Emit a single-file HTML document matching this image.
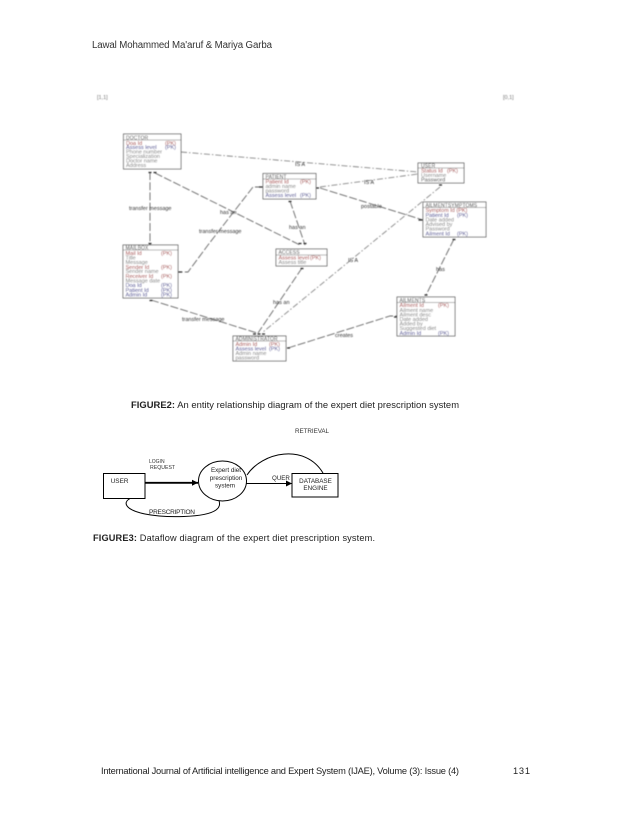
<!DOCTYPE html>
<html><head><meta charset="utf-8"><style>
html,body{margin:0;padding:0;background:#fff;width:638px;height:826px;overflow:hidden}
svg{display:block}
text{font-family:"Liberation Sans",sans-serif}
.er text{font-size:5.5px;fill:#777}
.er .h{fill:#333;font-size:5px;letter-spacing:.1px}.er .r{fill:#a03030}.er .b{fill:#303088}.er .k{fill:#333}
.er rect{fill:#fff;stroke:#555;stroke-width:.8}
.er line.s{stroke:#666;stroke-width:.6}
.c{fill:none;stroke:#666;stroke-width:.9}
.d{stroke-dasharray:8 2.2}
.dd{stroke-dasharray:6 2 1.5 2;stroke:#888}
.t{stroke:#222;stroke-width:1.2;fill:none}
</style></head><body>
<svg width="638" height="826" viewBox="0 0 638 826" xmlns="http://www.w3.org/2000/svg">
<defs><filter id="bl" x="-5%" y="-5%" width="110%" height="110%"><feGaussianBlur stdDeviation="0.4"/></filter>
<marker id="ar" markerUnits="userSpaceOnUse" markerWidth="7" markerHeight="7" refX="6" refY="3.500" orient="auto"><path d="M0 .5L6 3.500L0 6.500z" fill="#000"/></marker></defs>
<rect width="638" height="826" fill="#fff"/>
<text x="92" y="48" font-size="9.700" fill="#333" textLength="180" lengthAdjust="spacing">Lawal Mohammed Ma'aruf &amp; Mariya Garba</text>
<g class="er" filter="url(#bl)">
<text x="97" y="99">[1,1]</text><text x="503" y="99">[0,1]</text>
<path class="c dd" d="M181 152L418 172"/>
<path class="c dd" d="M320 187L418 174"/>
<path class="c dd" d="M440 187L263 332"/>
<path class="c d" d="M150 172V245"/>
<path class="c d" d="M155 173L300 245"/>
<path class="c d" d="M263 187H253L208 245L188 272H178"/>
<path class="c d" d="M320 188L423 220"/>
<path class="c d" d="M290 201L305 245"/>
<path class="c d" d="M454 239L426 295"/>
<path class="c d" d="M151 300L257 333"/>
<path class="c d" d="M302 268L258 333"/>
<path class="c d" d="M288 348L390 316H397"/>
<path class="t" d="M148.500 172.500h3M153.500 172.500h3M148.500 243.500h3M288.500 201.500h3M439 185h3M452.500 239.500h3M424.500 295h3M149.500 300.500h3M298.500 243.500h3M303.500 243.500h3M300.500 268.500h3M253 334h3M257.500 334h3M262 334h3M178 272h4M418.500 220h4.500M259 187h4M316 188h3M394 317h3M287 348h3"/>
<text x="129" y="210" class="k">transfer message</text>
<text x="199" y="233" class="k">transfer message</text>
<text x="220" y="214" class="k">has an</text>
<text x="289" y="229" class="k">has an</text>
<text x="361" y="208" class="k">postable</text>
<text x="295" y="166" class="k">IS A</text>
<text x="364" y="184" class="k">IS A</text>
<text x="348" y="262" class="k">IS A</text>
<text x="436" y="271" class="k">has</text>
<text x="273" y="304" class="k">has an</text>
<text x="182" y="321" class="k">transfer message</text>
<text x="335" y="337" class="k">creates</text>

<rect x="123.500" y="134" width="57.500" height="35"/><line class="s" x1="123.500" x2="181" y1="140" y2="140"/>
<text x="126" y="139.500" class="h">DOCTOR</text>
<text x="126" y="144.800" class="r">Doa Id</text><text x="165" y="144.800" class="r">(PK)</text>
<text x="126" y="149.200" class="b">Assess level</text><text x="165" y="149.200" class="b">(PK)</text>
<text x="126" y="153.700">Phone number</text><text x="126" y="158.200">Specialization</text><text x="126" y="162.700">Doctor name</text><text x="126" y="167.200">Address</text>

<rect x="263" y="173.500" width="53" height="25.500"/><line class="s" x1="263" x2="316" y1="179" y2="179"/>
<text x="265.500" y="178.500" class="h">PATIENT</text>
<text x="265.500" y="183.500" class="r">Patient Id</text><text x="300" y="183.500" class="r">(PK)</text>
<text x="265.500" y="187.900">admin name</text><text x="265.500" y="192.300">password</text>
<text x="265.500" y="197" class="b">Assess level</text><text x="300" y="197" class="b">(PK)</text>

<rect x="418" y="163" width="46" height="20"/><line class="s" x1="418" x2="464" y1="168" y2="168"/>
<text x="421" y="167.500" class="h">USER</text>
<text x="421" y="172.700" class="r">Status Id</text><text x="447" y="172.700" class="r">(PK)</text>
<text x="421" y="177.200">Username</text><text x="421" y="181.700" class="k">Password</text>

<rect x="423" y="202" width="63" height="35"/><line class="s" x1="423" x2="486" y1="207.500" y2="207.500"/>
<text x="425.500" y="206.800" class="h">AILMENTSYMPTOMS</text>
<text x="425.500" y="212.200" class="r">Symptom Id (PK)</text>
<text x="425.500" y="216.900" class="b">Patient Id</text><text x="457" y="216.900" class="b">(PK)</text>
<text x="425.500" y="221.500">Date added</text><text x="425.500" y="226.100">Advised by</text><text x="425.500" y="230.700">Password</text>
<text x="425.500" y="235.400" class="b">Ailment Id</text><text x="457" y="235.400" class="b">(PK)</text>

<rect x="123" y="245" width="55" height="53"/><line class="s" x1="123" x2="178" y1="250" y2="250"/>
<text x="125.500" y="249.600" class="h">MAILBOX</text>
<text x="125.500" y="255.200" class="r">Mail Id</text><text x="161" y="255.200" class="r">(PK)</text>
<text x="125.500" y="259.700">Title</text><text x="125.500" y="264.200">Message</text>
<text x="125.500" y="268.800" class="r">Sender Id</text><text x="161" y="268.800" class="r">(PK)</text>
<text x="125.500" y="273.200">Sender name</text>
<text x="125.500" y="278.200" class="r">Receiver Id</text><text x="161" y="278.200" class="r">(PK)</text>
<text x="125.500" y="282.700">Message date</text>
<text x="125.500" y="287.200" class="b">Doa Id</text><text x="161" y="287.200" class="b">(PK)</text>
<text x="125.500" y="291.800" class="b">Patient Id</text><text x="161" y="291.800" class="b">(PK)</text>
<text x="125.500" y="296.400" class="b">Admin Id</text><text x="161" y="296.400" class="b">(PK)</text>

<rect x="276" y="249" width="51" height="17"/><line class="s" x1="276" x2="327" y1="255" y2="255"/>
<text x="278.500" y="254" class="h">ACCESS</text>
<text x="278.500" y="259.700" class="r">Assess level</text><text x="310" y="259.700" class="r">(PK)</text>
<text x="278.500" y="264.200">Assess title</text>

<rect x="233" y="336" width="53" height="25"/><line class="s" x1="233" x2="286" y1="341" y2="341"/>
<text x="235.500" y="340.500" class="h">ADMINISTRATOR</text>
<text x="235.500" y="346" class="r">Admin Id</text><text x="269" y="346" class="r">(PK)</text>
<text x="235.500" y="350.700" class="b">Assess level</text><text x="269" y="350.700" class="b">(PK)</text>
<text x="235.500" y="355.200">Admin name</text><text x="235.500" y="359.700">password</text>

<rect x="397" y="297" width="58" height="39"/><line class="s" x1="397" x2="455" y1="302.500" y2="302.500"/>
<text x="399.500" y="301.800" class="h">AILMENTS</text>
<text x="399.500" y="307.200" class="r">Ailment Id</text><text x="438" y="307.200" class="r">(PK)</text>
<text x="399.500" y="311.800">Ailment name</text><text x="399.500" y="316.400">Ailment desc</text><text x="399.500" y="321">Date added</text><text x="399.500" y="325.600">Added by</text><text x="399.500" y="330.200">Suggested diet</text>
<text x="399.500" y="334.800" class="b">Admin Id</text><text x="438" y="334.800" class="b">(PK)</text>
</g>

<text x="131" y="408" font-size="9.400" fill="#222" textLength="328" lengthAdjust="spacing"><tspan font-weight="bold">FIGURE2:</tspan> An entity relationship diagram of the expert diet prescription system</text>
<text x="295" y="433" font-size="6.300" fill="#333" textLength="34" lengthAdjust="spacing">RETRIEVAL</text>
<text x="149" y="463" font-size="5" fill="#333">LOGIN</text>
<text x="150" y="469" font-size="5.200" fill="#333">REQUEST</text>

<path d="M247 475C262 452 305 443 323 473" fill="none" stroke="#000" stroke-width="1"/>
<path d="M130 498.500C122 503 126 510 145 514C165 518 205 518 216 510C220 507 220 504 219 500.500" fill="none" stroke="#000" stroke-width="1"/>
<rect x="103.500" y="473.500" width="41.500" height="25" fill="#fff" stroke="#000" stroke-width="1"/>
<ellipse cx="222.500" cy="481" rx="24" ry="20" fill="#fff" stroke="#000" stroke-width="1"/>
<rect x="292" y="473.500" width="46" height="23.500" fill="#fff" stroke="#000" stroke-width="1"/>
<line x1="145" y1="482.800" x2="198" y2="482.800" stroke="#000" stroke-width="1.800" marker-end="url(#ar)"/>
<line x1="246.500" y1="483.500" x2="292" y2="483.500" stroke="#000" stroke-width="1" marker-end="url(#ar)"/>
<text x="110.700" y="483" font-size="6.400" fill="#222">USER</text>
<g font-size="6.300" fill="#222" text-anchor="middle">
<text x="226" y="472">Expert diet</text><text x="226" y="480">prescription</text><text x="225" y="487.500">system</text>
<text x="315.500" y="483">DATABASE</text><text x="315.500" y="490">ENGINE</text>
</g>
<text x="272" y="480" font-size="6.200" fill="#222">QUER</text>
<text x="149" y="514" font-size="6.500" fill="#222" textLength="46" lengthAdjust="spacing">PRESCRIPTION</text>
<text x="93" y="541" font-size="9.200" fill="#222" textLength="282" lengthAdjust="spacing"><tspan font-weight="bold">FIGURE3:</tspan> Dataflow diagram of the expert diet prescription system.</text>
<text x="101" y="774" font-size="9.300" fill="#222" textLength="358" lengthAdjust="spacing">International Journal of Artificial intelligence and Expert System (IJAE), Volume (3):  Issue (4)</text>
<text x="513" y="774" font-size="9.300" fill="#222" textLength="17" lengthAdjust="spacing">131</text>
</svg>
</body></html>
